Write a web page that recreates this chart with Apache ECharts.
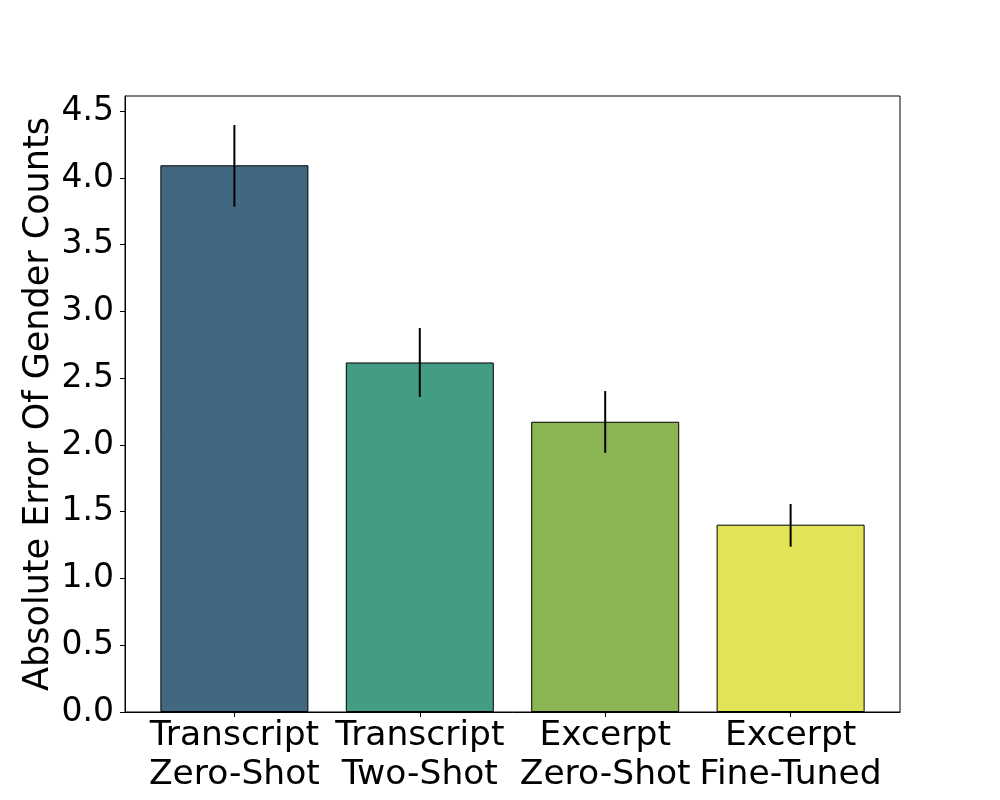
<!DOCTYPE html>
<html>
<head>
<meta charset="utf-8">
<script src="https://cdn.jsdelivr.net/npm/echarts@6/dist/echarts.min.js"></script>
<style>html,body{margin:0;padding:0;background:#fff;}#c{width:1000px;height:800px;}</style>
</head>
<body>
<div id="c"></div>
<script>
const categories = ['Transcript\nZero-Shot', 'Transcript\nTwo-Shot', 'Excerpt\nZero-Shot', 'Excerpt\nFine-Tuned'];
const values = [4.095, 2.618, 2.174, 1.403];
const errLow = [3.785, 2.36, 1.942, 1.238];
const errHigh = [4.397, 2.876, 2.404, 1.558];
const colors = ['#416880', '#429d84', '#8bb453', '#e1e456'];
const yTicks = [0, 0.5, 1, 1.5, 2, 2.5, 3, 3.5, 4, 4.5];

const font = 'DejaVu Sans';
const chart = echarts.init(document.getElementById('c'), null, {renderer: 'canvas'});
const positions = categories.map((c, i) => i);

chart.setOption({
  animation: false,
  backgroundColor: '#fff',
  grid: {left: 125, right: 100, top: 96, bottom: 88, show: true, borderColor: '#000', borderWidth: 1, backgroundColor: 'transparent'},
  xAxis: {
    type: 'value', min: -0.59, max: 3.59,
    splitLine: {show: false},
    axisLine: {show: true, onZero: false, lineStyle: {color: '#000', width: 1}},
    axisTick: {show: true, length: 5, lineStyle: {color: '#000', width: 1}, customValues: positions},
    axisLabel: {show: true, customValues: positions, formatter: v => categories[Math.round(v)],
      fontFamily: font, fontSize: 34.5, color: '#000', lineHeight: 39, margin: 5},
  },
  yAxis: {
    type: 'value', min: 0, max: 4.614,
    name: 'Absolute Error Of Gender Counts', nameLocation: 'middle', nameGap: 69, nameMoveOverlap: false,
    nameTextStyle: {fontFamily: font, fontSize: 35, color: '#000'},
    splitLine: {show: false},
    axisLine: {show: true, onZero: false, lineStyle: {color: '#000', width: 1}},
    axisTick: {show: true, length: 5, lineStyle: {color: '#000', width: 1}, customValues: yTicks},
    axisLabel: {customValues: yTicks, formatter: v => v.toFixed(1), fontFamily: font, fontSize: 33, color: '#000', margin: 11},
  },
  series: [
    {
      type: 'bar', barWidth: 148,
      data: values.map((v, i) => ({value: [i, v], itemStyle: {color: colors[i], borderColor: '#000', borderWidth: 1}})),
    },
    {
      type: 'custom',
      data: values.map((v, i) => [i, errLow[i], errHigh[i]]),
      encode: {x: 0, y: [1, 2]},
      renderItem: function (params, api) {
        const p1 = api.coord([api.value(0), api.value(1)]);
        const p2 = api.coord([api.value(0), api.value(2)]);
        return {type: 'line', shape: {x1: p1[0], y1: p1[1], x2: p2[0], y2: p2[1]}, style: {stroke: '#000', lineWidth: 2}};
      },
      z: 10
    }
  ]
});
</script>
</body>
</html>
